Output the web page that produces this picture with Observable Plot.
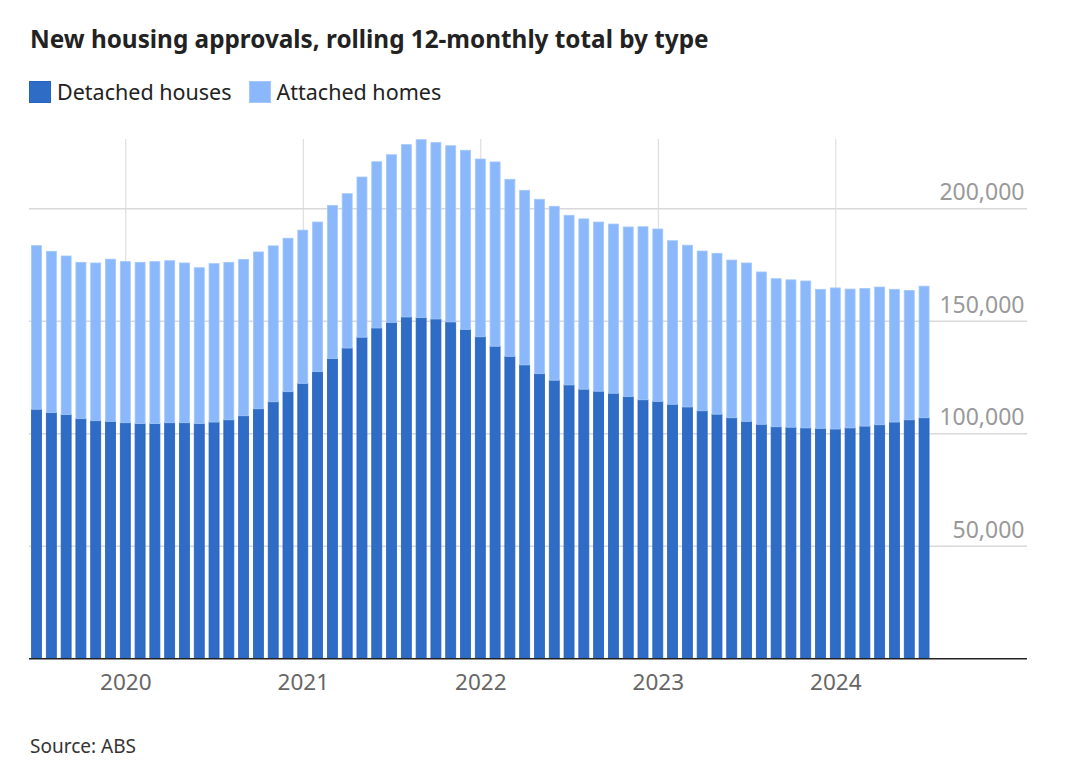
<!DOCTYPE html>
<html>
<head>
<meta charset="utf-8">
<script src="https://cdn.jsdelivr.net/npm/d3@7"></script>
<script src="https://cdn.jsdelivr.net/npm/@observablehq/plot@0.6"></script>
<style>
  html, body { margin: 0; padding: 0; background: #fff; }
  body { width: 1080px; height: 782px; position: relative; overflow: hidden; font-family: "Noto Sans", Lato, sans-serif; }
  #title { position: absolute; left: 30px; top: 22px; font-family: "Noto Sans", Lato, sans-serif; font-weight: 700; font-size: 24.3px; color: #222; white-space: nowrap; letter-spacing: 0px; }
  #legend { position: absolute; left: 29px; top: 77px; display: flex; align-items: center; font-size: 21.5px; color: #222; white-space: nowrap; }
  .sw { width: 20px; height: 20px; display: inline-block; margin-right: 6px; }
  .item { display: flex; align-items: center; margin-right: 17px; }
  #chart { position: absolute; left: 0; top: 118px; }
  #source { position: absolute; left: 30px; top: 733px; font-size: 19px; color: #333; }
</style>
</head>
<body>
<div id="title">New housing approvals, rolling 12-monthly total by type</div>
<div id="legend"></div>
<div id="chart"></div>
<div id="source">Source: ABS</div>
<script>
// Months (YYYY-MM), July 2019 to July 2024
const months = [
  "2019-07","2019-08","2019-09","2019-10","2019-11","2019-12",
  "2020-01","2020-02","2020-03","2020-04","2020-05","2020-06","2020-07","2020-08","2020-09","2020-10","2020-11","2020-12",
  "2021-01","2021-02","2021-03","2021-04","2021-05","2021-06","2021-07","2021-08","2021-09","2021-10","2021-11","2021-12",
  "2022-01","2022-02","2022-03","2022-04","2022-05","2022-06","2022-07","2022-08","2022-09","2022-10","2022-11","2022-12",
  "2023-01","2023-02","2023-03","2023-04","2023-05","2023-06","2023-07","2023-08","2023-09","2023-10","2023-11","2023-12",
  "2024-01","2024-02","2024-03","2024-04","2024-05","2024-06","2024-07"
];
// Detached houses, rolling 12-month total
const detached = [
  110700,109200,108300,106500,105600,105300,
  104700,104300,104300,104700,104700,104300,105000,106000,107800,110900,114000,118500,
  122200,127400,133200,137900,142700,146800,149300,151700,151400,150800,149500,146200,
  142900,138700,134200,130400,126500,123600,121500,119600,118700,117800,116300,114900,
  114200,112900,111700,110000,108500,106900,105300,104000,102900,102700,102400,102200,
  101900,102400,103200,103800,105000,106000,106900
];
// Attached homes, rolling 12-month total
const attached = [
  72700,71700,70500,69500,70100,72100,
  71600,71700,72000,72000,71000,69300,70400,70000,69500,69700,69300,68200,
  68100,66500,68100,68600,71200,73900,74500,76600,79100,78400,78300,79600,
  79000,81900,78700,77600,77500,77300,75400,75700,75200,75200,75400,76900,
  76600,72700,71900,71000,71500,70100,70400,67700,65800,65500,65300,61800,
  62700,61700,61200,61200,59000,57500,58500
];
const seriesNames = ["Detached houses", "Attached homes"];
const seriesColors = ["#2e6cc5", "#8ab8fa"];
const seriesStrokes = ["#2563c2", "#a3c8fb"];
const yearTicks = [2020, 2021, 2022, 2023, 2024];
const valueTicks = [50000, 100000, 150000, 200000];

// Build long table
const data = [];
months.forEach((m, i) => {
  const [yy, mm] = m.split("-").map(Number);
  const t = yy + (mm - 1) / 12;
  data.push({t, type: seriesNames[0], value: detached[i]});
  data.push({t, type: seriesNames[1], value: attached[i]});
});

// Legend
const legend = document.getElementById("legend");
seriesNames.forEach((n, i) => {
  const it = document.createElement("div");
  it.className = "item";
  it.innerHTML = `<span class="sw" style="background:${seriesColors[i]};border:1px solid ${seriesStrokes[i]}"></span><span>${n}</span>`;
  legend.appendChild(it);
});

// Stack via Plot, then use explicit half-month bar extents
const stacked = Plot.stackY({x: "t", y: "value", fill: "type", order: seriesNames});
const {x: _x, ...stackedNoX} = stacked;

const chart = Plot.plot({
  width: 1080,
  height: 580,
  marginTop: 21,
  marginBottom: 39.7,
  marginLeft: 29,
  marginRight: 53,
  style: {fontFamily: '"Noto Sans", Lato, sans-serif', background: "#fff"},
  x: {type: "linear", domain: [2019.4575, 2025.08], axis: null},
  y: {domain: [0, 230800], axis: null},
  color: {domain: seriesNames, range: seriesColors},
  marks: [
    Plot.gridX(yearTicks, {stroke: "#d9d9d9", strokeOpacity: 1, strokeWidth: 1}),
    Plot.gridY(valueTicks, {stroke: "#d9d9d9", strokeOpacity: 1, strokeWidth: 1.5}),
    Plot.rect(data, {
      ...stackedNoX,
      x1: d => d.t - 1 / 24,
      x2: d => d.t + 1 / 24,
      insetLeft: 2.4,
      insetRight: 2.4,
      stroke: d => d.type === seriesNames[0] ? seriesStrokes[0] : seriesStrokes[1],
      strokeWidth: 0.8
    }),
    Plot.ruleY([0], {stroke: "#222", strokeWidth: 1.6}),
    Plot.text(valueTicks, {
      y: d => d,
      text: d => d3.format(",")(d),
      frameAnchor: "right",
      textAnchor: "end",
      dx: -3,
      dy: -16,
      fontSize: 23,
      fill: "#999"
    }),
    Plot.axisX(yearTicks, {
      tickSize: 0,
      tickPadding: 15,
      tickFormat: d => String(d),
      fontSize: 22.5,
      color: "#666"
    })
  ]
});
document.getElementById("chart").appendChild(chart);
</script>
</body>
</html>
